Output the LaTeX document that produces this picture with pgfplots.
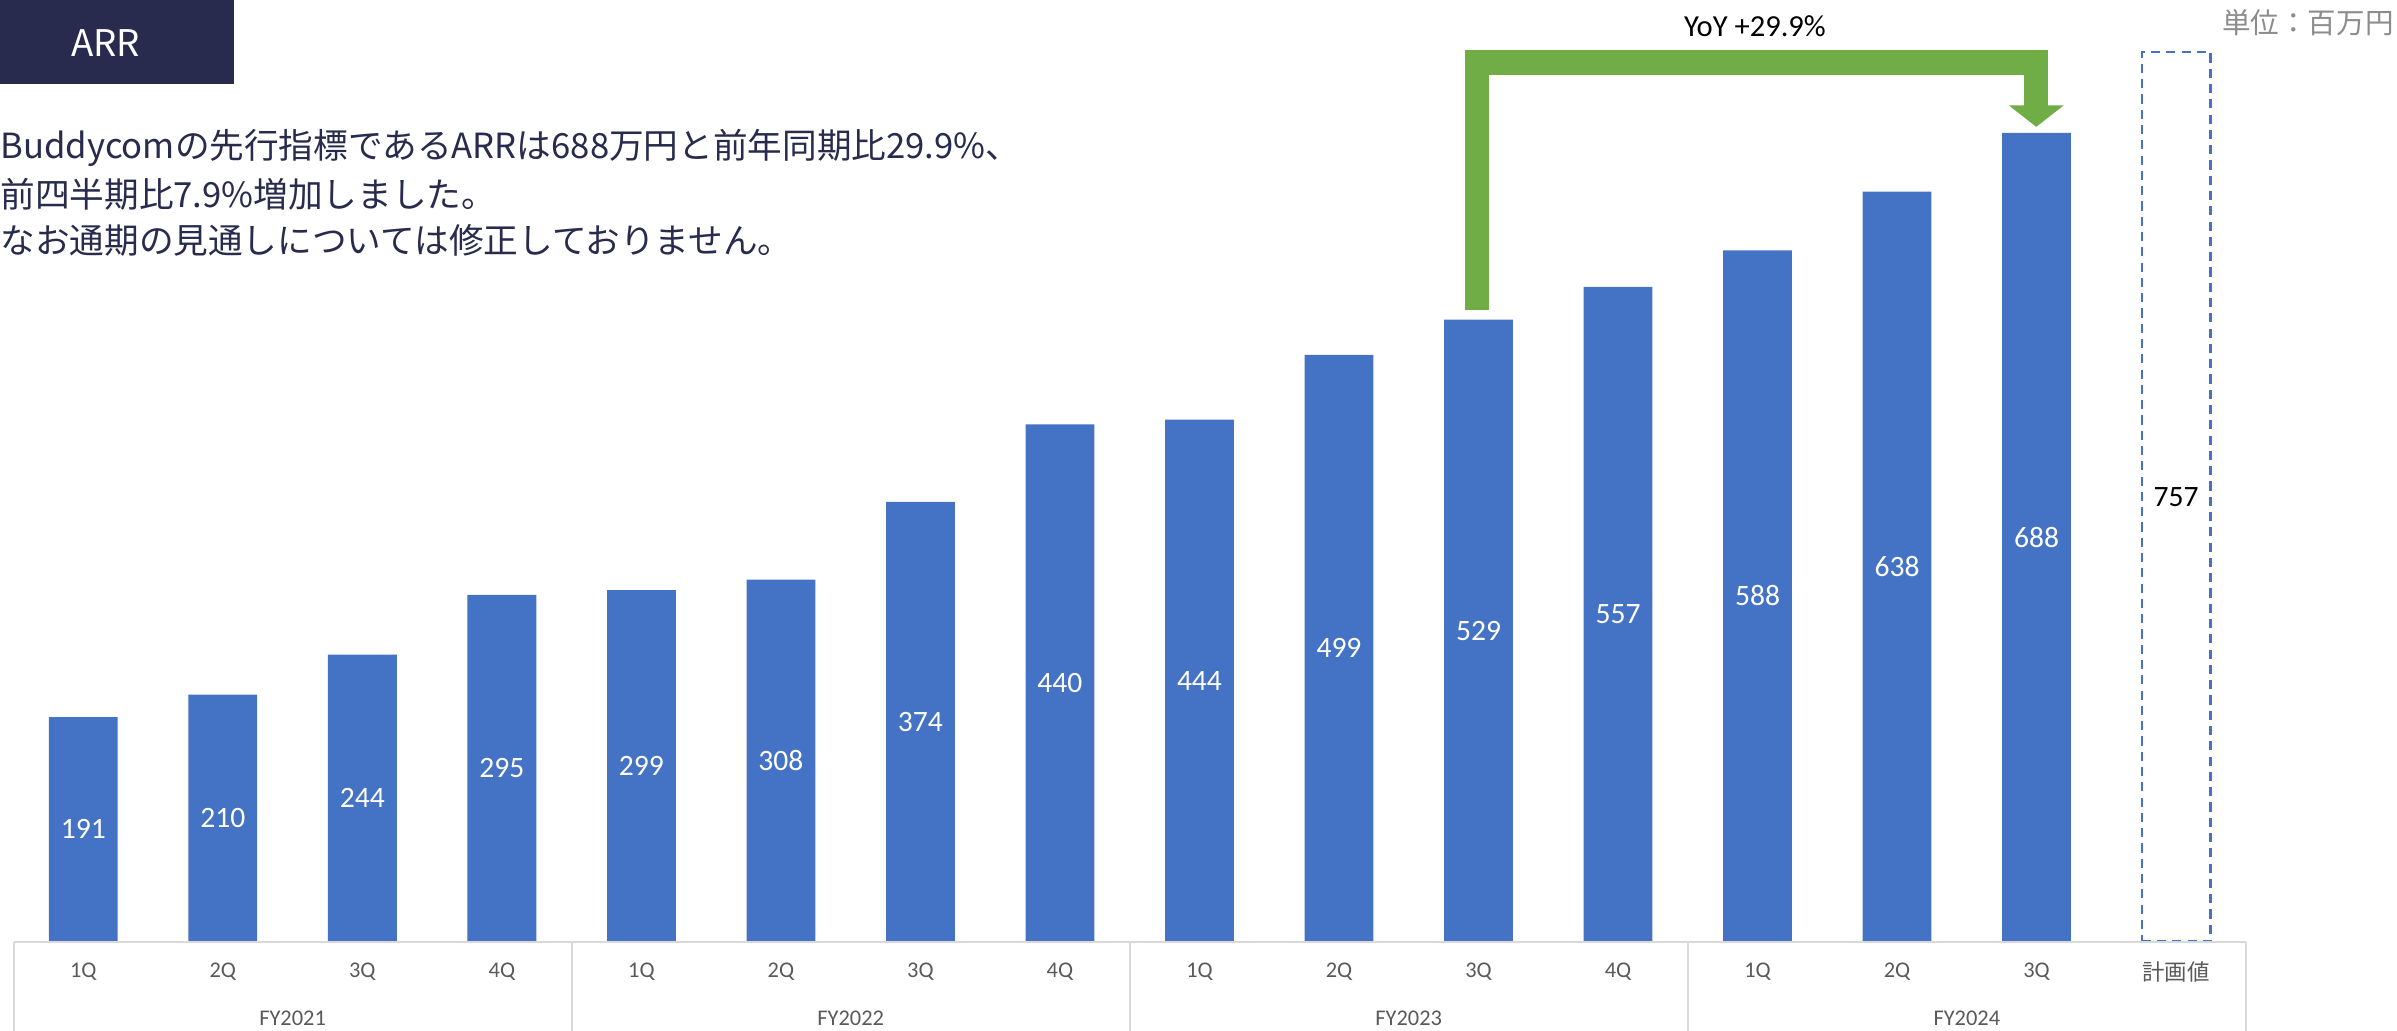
\documentclass[border=0pt]{standalone}
\usepackage{pgfplots}
\pgfplotsset{compat=1.18}
\usepackage{fontspec}
\setmainfont{Carlito}
\newfontfamily\jp{Noto Sans CJK JP}
\usetikzlibrary{arrows.meta}

\definecolor{barblue}{HTML}{4472C4}
\definecolor{navy}{HTML}{282B4D}
\definecolor{arrowgreen}{HTML}{70AD47}
\definecolor{ticktext}{HTML}{595959}
\definecolor{gridgray}{HTML}{D9D9D9}
\definecolor{unitgray}{HTML}{8C8C8C}

\begin{document}
\begin{tikzpicture}
\begin{axis}[
  x=68.45pt, y=0.5767pt,
  xmin=-0.5, xmax=15.5, ymin=0, ymax=801,
  axis x line*=bottom, axis y line=none,
  x axis line style={draw=none},
  ytick=\empty,
  xtick={0,...,15},
  xticklabels={1Q,2Q,3Q,4Q,1Q,2Q,3Q,4Q,1Q,2Q,3Q,4Q,1Q,2Q,3Q,{\jp 計画値}},
  xtick style={draw=none},
  xticklabel style={anchor=center, yshift=-15pt, text=ticktext,
    font=\fontsize{11}{13}\selectfont},
  /pgf/number format/assume math mode=true,
  clip=false,
]
% actuals
\addplot[ybar, bar width=33.75pt, bar shift=0pt, fill=barblue, draw=none,
  visualization depends on={rawy \as \rawy},
  nodes near coords, nodes near coords align={center},
  every node near coord/.append style={yshift=-0.28835pt*\rawy, text=white,
    font=\fontsize{14.5}{16}\selectfont}]
  coordinates {
  (0,191) (1,210) (2,244) (3,295)
  (4,299) (5,308) (6,374) (7,440)
  (8,444) (9,499) (10,529) (11,557)
  (12,588) (13,638) (14,688)
};
% plan
\addplot[ybar, bar width=33.75pt, bar shift=0pt, fill=white, draw=barblue,
  line width=1.1pt, dash pattern=on 4.5pt off 3pt,
  visualization depends on={rawy \as \rawy},
  nodes near coords, nodes near coords align={center},
  every node near coord/.append style={yshift=-0.28835pt*\rawy, text=black,
    font=\fontsize{14.5}{16}\selectfont}]
  coordinates {(15,757)};

\draw[gridgray, line width=1pt] (axis cs:-0.5,0) -- (axis cs:15.5,0);
\pgfplotsinvokeforeach{-0.5,3.5,7.5,11.5,15.5}{
  \draw[gridgray, line width=1pt] (axis cs:#1,0) -- ++(0pt,-44.25pt);
}
\node[text=ticktext, font=\fontsize{11}{13}\selectfont] at (axis cs:1.5,0) [yshift=-37.5pt] {FY2021};
\node[text=ticktext, font=\fontsize{11}{13}\selectfont] at (axis cs:5.5,0) [yshift=-37.5pt] {FY2022};
\node[text=ticktext, font=\fontsize{11}{13}\selectfont] at (axis cs:9.5,0) [yshift=-37.5pt] {FY2023};
\node[text=ticktext, font=\fontsize{11}{13}\selectfont] at (axis cs:13.5,0) [yshift=-37.5pt] {FY2024};

\coordinate (TL) at (rel axis cs:0,1);
\end{axis}

\begin{scope}[shift={(TL)}, xshift=-6.65pt, x=0.75pt, y=-0.75pt]
  \fill[navy] (0,0) rectangle (153,55);
  \node[text=white, font=\jp\fontsize{18}{20}\selectfont] at (69,28) {ARR};
  \node[anchor=west, inner sep=0pt, text=navy, font=\jp\fontsize{17}{20}\selectfont] at (0,97)
    {Buddycomの先行指標であるARRは688万円と前年同期比29.9\%、};
  \node[anchor=west, inner sep=0pt, text=navy, font=\jp\fontsize{17}{20}\selectfont] at (0,127)
    {前四半期比7.9\%増加しました。};
  \node[anchor=west, inner sep=0pt, text=navy, font=\jp\fontsize{17}{20}\selectfont] at (0,157)
    {なお通期の見通しについては修正しておりません。};
  \node[font=\fontsize{15}{17}\selectfont] at (1148,17) {YoY +29.9\%};
  \node[anchor=east, inner sep=0pt, text=unitgray, font=\jp\fontsize{14}{16}\selectfont] at (1566,15)
    {単位：百万円};
  \draw[arrowgreen, line width=12pt, line join=miter,
    -{Triangle[width=26.25pt,length=10.5pt]}]
    (966,203) -- (966,41) -- (1332,41) -- (1332,83);
  \pgfresetboundingbox
  \path (0,0) rectangle (1568,674);
\end{scope}
\end{tikzpicture}
\end{document}
